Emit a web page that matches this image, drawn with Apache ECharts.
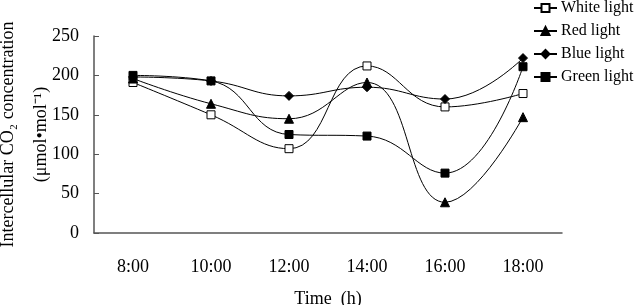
<!DOCTYPE html>
<html>
<head>
<meta charset="utf-8">
<script src="https://cdn.jsdelivr.net/npm/echarts@6/dist/echarts.min.js"></script>
<style>
  html, body { margin: 0; padding: 0; background: #fff; }
  #main { width: 634px; height: 305px; }
</style>
</head>
<body>
<div id="main"></div>
<script>
// time of day
var hours = ['8:00', '10:00', '12:00', '14:00', '16:00', '18:00'];
// intercellular CO2, umol/mol
var whiteLight = [191, 150, 107, 212, 160, 177];
var redLight = [196, 164, 145, 191, 39, 147];
var blueLight = [198, 193, 174, 185, 170, 222];
var greenLight = [200, 193, 125, 123, 76, 211];
var yTicks = [0, 50, 100, 150, 200, 250];

var font = 'Liberation Serif';
var myChart = echarts.init(document.getElementById('main'));

function mkSeries(name, data, symbol, size, fill) {
  return {
    name: name,
    type: 'line',
    data: data,
    smooth: 0.45,
    symbol: symbol,
    symbolSize: size,
    showAllSymbol: true,
    lineStyle: { color: '#000', width: 1 },
    itemStyle: { color: fill, borderColor: '#000', borderWidth: 1 },
    emphasis: { disabled: true }
  };
}

myChart.setOption({
  animation: false,
  textStyle: { fontFamily: font },
  grid: { left: 94, right: 72, top: 36, bottom: 72, containLabel: false, outerBoundsMode: 'none' },
  legend: {
    orient: 'vertical',
    left: 533,
    top: 0,
    padding: 0,
    itemWidth: 23,
    itemHeight: 10,
    itemGap: 7,
    textStyle: { fontFamily: font, fontSize: 16, color: '#000', padding: [0, 0, 0, -1] },
    data: ['White light', 'Red light', 'Blue light', 'Green light']
  },
  xAxis: {
    type: 'category',
    data: hours,
    boundaryGap: true,
    axisLine: { lineStyle: { color: '#555', width: 1.5 } },
    axisTick: { inside: true, length: 5, lineStyle: { color: '#555' } },
    axisLabel: { fontFamily: font, fontSize: 18, color: '#000', margin: 25 },
    name: 'Time  (h)',
    nameLocation: 'middle',
    nameGap: 57,
    nameMoveOverlap: false,
    nameTextStyle: { fontFamily: font, fontSize: 18, color: '#000' }
  },
  yAxis: {
    type: 'value',
    min: yTicks[0],
    max: yTicks[yTicks.length - 1],
    interval: 50,
    splitLine: { show: false },
    axisLine: { show: true, lineStyle: { color: '#555', width: 1.5 } },
    axisTick: { show: true, inside: true, length: 5, lineStyle: { color: '#555' } },
    axisLabel: { fontFamily: font, fontSize: 18, color: '#000', margin: 15 },
    name: 'Intercellular CO\u2082 concentration\n(\u03bcmol\u2022mol\u207b\u00b9)',
    nameLocation: 'middle',
    nameRotate: 90,
    nameGap: 36,
    nameMoveOverlap: false,
    nameTextStyle: { fontFamily: font, fontSize: 18, color: '#000', lineHeight: 33 }
  },
  series: [
    mkSeries('White light', whiteLight, 'rect', 8, '#fff'),
    mkSeries('Red light', redLight, 'triangle', 9, '#000'),
    mkSeries('Blue light', blueLight, 'diamond', 9, '#000'),
    mkSeries('Green light', greenLight, 'rect', 8, '#000')
  ]
});
</script>
</body>
</html>
